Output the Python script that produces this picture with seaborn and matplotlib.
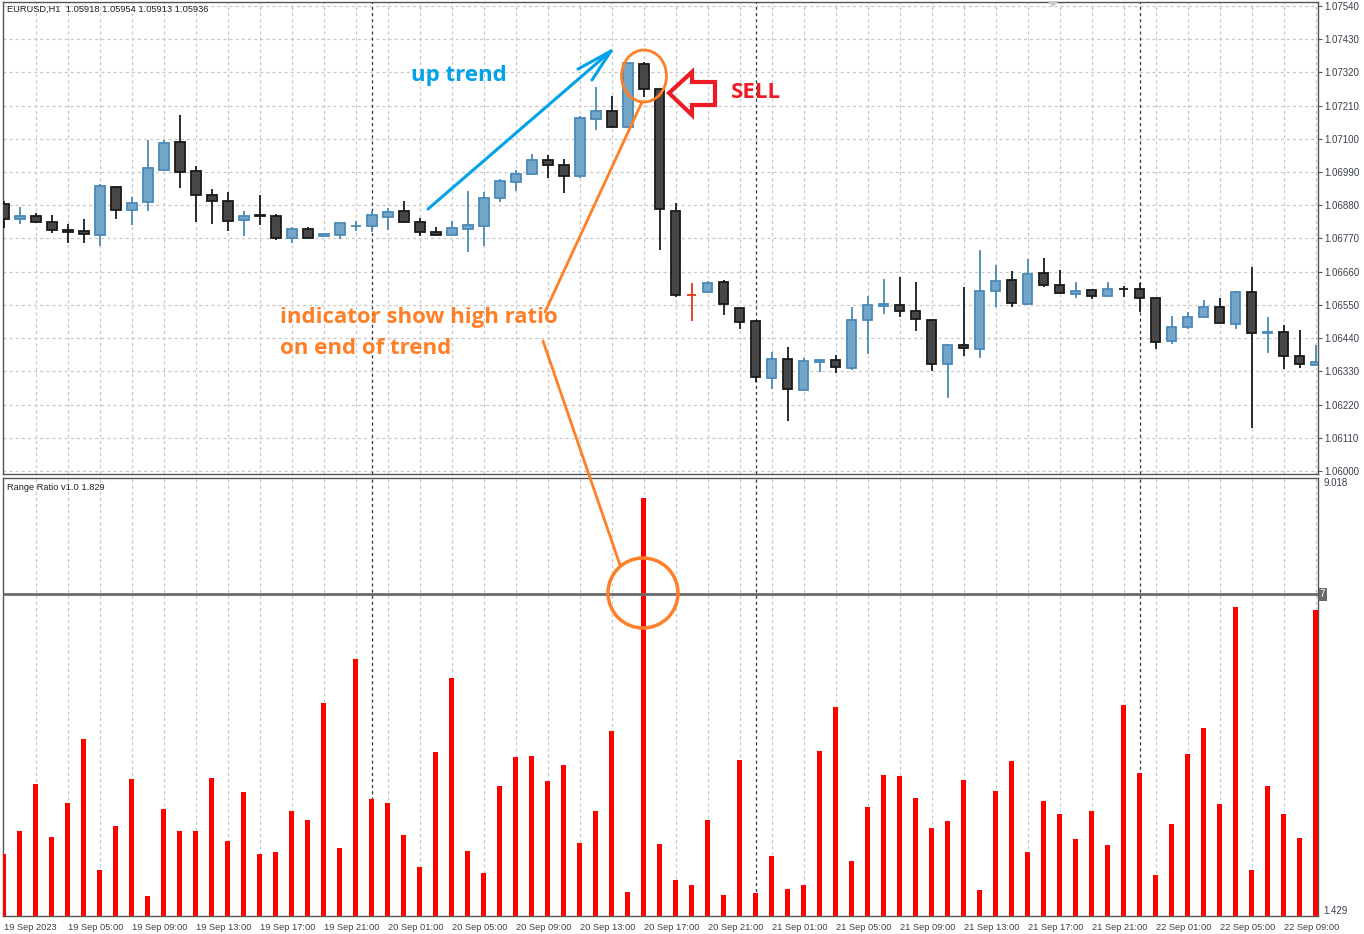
import numpy as np
import pandas as pd
import matplotlib
matplotlib.use("Agg")
import matplotlib.pyplot as plt
import matplotlib.transforms as mtransforms
from matplotlib.patches import Ellipse, Polygon
from matplotlib.lines import Line2D
import seaborn as sns

# ---- data (EURUSD H1, 83 bars) ----
time_labels = [
    "19 Sep 2023", "19 Sep 05:00", "19 Sep 09:00", "19 Sep 13:00", "19 Sep 17:00",
    "19 Sep 21:00", "20 Sep 01:00", "20 Sep 05:00", "20 Sep 09:00", "20 Sep 13:00",
    "20 Sep 17:00", "20 Sep 21:00", "21 Sep 01:00", "21 Sep 05:00", "21 Sep 09:00",
    "21 Sep 13:00", "21 Sep 17:00", "21 Sep 21:00", "22 Sep 01:00", "22 Sep 05:00",
    "22 Sep 09:00",
]
day_breaks = [23, 47, 71]

opens = [
    1.06884, 1.06835, 1.06845, 1.06825, 1.06798, 1.06795, 1.06782, 1.06941, 1.06865, 1.06891,
    1.06997, 1.07090, 1.06994, 1.06914, 1.06894, 1.06831, 1.06846, 1.06845, 1.06772, 1.06802,
    1.06778, 1.06782, 1.06811, 1.06812, 1.06841, 1.06861, 1.06825, 1.06792, 1.06782, 1.06802,
    1.06812, 1.06904, 1.06957, 1.06984, 1.07030, 1.07014, 1.06977, 1.07166, 1.07192, 1.07139,
    1.07348, 1.07265, 1.06861, 1.06583, 1.06593, 1.06626, 1.06540, 1.06497, 1.06308, 1.06371,
    1.06269, 1.06361, 1.06368, 1.06341, 1.06500, 1.06547, 1.06550, 1.06530, 1.06500, 1.06355,
    1.06418, 1.06404, 1.06596, 1.06633, 1.06553, 1.06656, 1.06616, 1.06586, 1.06600, 1.06580,
    1.06603, 1.06603, 1.06573, 1.06431, 1.06477, 1.06510, 1.06543, 1.06487, 1.06593, 1.06457,
    1.06461, 1.06381, 1.06351,
]
highs = [
    1.06894, 1.06874, 1.06855, 1.06848, 1.06818, 1.06835, 1.06951, 1.06943, 1.06908, 1.07096,
    1.07096, 1.07179, 1.07010, 1.06934, 1.06924, 1.06861, 1.06914, 1.06851, 1.06808, 1.06808,
    1.06788, 1.06822, 1.06828, 1.06861, 1.06871, 1.06894, 1.06838, 1.06808, 1.06828, 1.06928,
    1.06924, 1.06967, 1.06997, 1.07050, 1.07047, 1.07033, 1.07176, 1.07272, 1.07242, 1.07352,
    1.07355, 1.07266, 1.06888, 1.06623, 1.06630, 1.06633, 1.06541, 1.06500, 1.06394, 1.06411,
    1.06375, 1.06371, 1.06385, 1.06543, 1.06580, 1.06636, 1.06643, 1.06626, 1.06501, 1.06419,
    1.06610, 1.06732, 1.06682, 1.06663, 1.06702, 1.06706, 1.06666, 1.06626, 1.06601, 1.06626,
    1.06613, 1.06623, 1.06574, 1.06514, 1.06527, 1.06567, 1.06574, 1.06596, 1.06676, 1.06510,
    1.06484, 1.06467, 1.06418,
]
lows = [
    1.06805, 1.06818, 1.06822, 1.06788, 1.06755, 1.06755, 1.06745, 1.06835, 1.06815, 1.06861,
    1.06995, 1.06937, 1.06825, 1.06818, 1.06795, 1.06778, 1.06815, 1.06765, 1.06755, 1.06770,
    1.06775, 1.06769, 1.06795, 1.06792, 1.06798, 1.06822, 1.06778, 1.06780, 1.06778, 1.06725,
    1.06745, 1.06891, 1.06928, 1.06982, 1.06971, 1.06921, 1.06971, 1.07129, 1.07136, 1.07137,
    1.07239, 1.06732, 1.06577, 1.06497, 1.06590, 1.06517, 1.06471, 1.06295, 1.06272, 1.06166,
    1.06267, 1.06328, 1.06325, 1.06335, 1.06388, 1.06520, 1.06510, 1.06464, 1.06332, 1.06242,
    1.06381, 1.06375, 1.06543, 1.06543, 1.06551, 1.06610, 1.06586, 1.06573, 1.06570, 1.06579,
    1.06577, 1.06527, 1.06404, 1.06421, 1.06471, 1.06509, 1.06489, 1.06471, 1.06143, 1.06391,
    1.06338, 1.06341, 1.06350,
]
closes = [
    1.06835, 1.06845, 1.06825, 1.06798, 1.06792, 1.06785, 1.06944, 1.06865, 1.06888, 1.07004,
    1.07086, 1.06990, 1.06914, 1.06894, 1.06828, 1.06845, 1.06845, 1.06772, 1.06802, 1.06772,
    1.06785, 1.06822, 1.06813, 1.06848, 1.06858, 1.06825, 1.06792, 1.06782, 1.06805, 1.06815,
    1.06904, 1.06961, 1.06984, 1.07030, 1.07014, 1.06977, 1.07169, 1.07192, 1.07139, 1.07351,
    1.07265, 1.06868, 1.06583, 1.06583, 1.06623, 1.06553, 1.06494, 1.06312, 1.06371, 1.06272,
    1.06365, 1.06368, 1.06345, 1.06500, 1.06550, 1.06553, 1.06530, 1.06504, 1.06355, 1.06418,
    1.06408, 1.06596, 1.06630, 1.06557, 1.06653, 1.06616, 1.06590, 1.06596, 1.06580, 1.06603,
    1.06602, 1.06573, 1.06428, 1.06477, 1.06510, 1.06543, 1.06490, 1.06593, 1.06457, 1.06461,
    1.06381, 1.06355, 1.06361,
]
# Range Ratio indicator
ratio = [
    2.50, 2.90, 3.72, 2.80, 3.39, 4.50, 2.23, 2.99, 3.80, 1.78,
    3.28, 2.90, 2.90, 3.82, 2.73, 3.58, 2.50, 2.54, 3.25, 3.09,
    5.12, 2.61, 5.88, 3.46, 3.39, 2.83, 2.28, 4.27, 5.55, 2.56,
    2.17, 3.68, 4.18, 4.20, 3.77, 4.05, 2.69, 3.25, 4.63, 1.85,
    8.67, 2.68, 2.05, 1.97, 3.09, 1.79, 4.13, 1.83, 2.47, 1.90,
    1.97, 4.29, 5.05, 2.38, 3.32, 3.87, 3.86, 3.47, 2.95, 3.08,
    3.79, 1.88, 3.60, 4.12, 2.54, 3.42, 3.20, 2.76, 3.25, 2.66,
    5.09, 3.91, 2.14, 3.02, 4.24, 4.69, 3.37, 6.78, 2.23, 3.68,
    3.20, 2.78, 6.73,
]
price_ticks = [1.07540, 1.07430, 1.07320, 1.07210, 1.07100, 1.06990, 1.06880,
               1.06770, 1.06660, 1.06550, 1.06440, 1.06330, 1.06220, 1.06110, 1.06000]
level = 7

df = pd.DataFrame({"open": opens, "high": highs, "low": lows, "close": closes, "ratio": ratio})
df["bar"] = np.arange(len(df))

sns.set_style("white")
plt.rcParams["font.family"] = ["Liberation Sans", "DejaVu Sans"]
plt.rcParams["lines.scale_dashes"] = False

W, H = 1364, 934
fig = plt.figure(figsize=(W / 100, H / 100), dpi=100)
ax = fig.add_axes([3 / W, (H - 474) / H, 1315 / W, 472 / H])
ax2 = fig.add_axes([3 / W, (H - 916) / H, 1315 / W, 438 / H])

UP_FILL, UP_EDGE = "#74a6c9", "#4a8ab8"
DN_FILL, DN_EDGE = "#494648", "#1a1a1a"
GRID = "#c8c8c8"
TXT = "#3a3f4a"
SPINE = "#555555"
dash = (0, (2.2, 2.2))

# ---- candles ----
up = df[df.close > df.open]
dn = df[df.close < df.open]
flat = df[df.close == df.open]

ax.vlines(up.bar, up.low, up.high, color=UP_EDGE, lw=1.3, zorder=3)
ax.vlines(dn.bar, dn.low, dn.high, color=DN_EDGE, lw=1.3, zorder=3)
ax.vlines(flat.bar, flat.low, flat.high, color="#e8341c", lw=1.3, zorder=3)
ax.bar(up.bar, (up.close - up.open).clip(lower=0.00002), bottom=up.open, width=0.6,
       color=UP_FILL, edgecolor=UP_EDGE, lw=1.3, zorder=4)
ax.bar(dn.bar, (dn.open - dn.close).clip(lower=0.00002), bottom=dn.close, width=0.6,
       color=DN_FILL, edgecolor=DN_EDGE, lw=1.3, zorder=4)
ax.hlines(flat.close, flat.bar - 0.3, flat.bar + 0.3, color="#e8341c", lw=1.3, zorder=4)

# ---- indicator histogram ----
sns.barplot(data=df, x="bar", y="ratio", native_scale=True, width=0.33, color="#ff0000",
            saturation=1, errorbar=None, ax=ax2, linewidth=0, zorder=3)
ax2.axhline(level, color="#6a6a6a", lw=2, zorder=4)

# ---- axes styling ----
xlim = (-0.05, 82.15)
for a in (ax, ax2):
    a.set_xlim(*xlim)
    a.set_xlabel("")
    a.set_ylabel("")
    for b in range(2, len(df), 2):
        a.axvline(b, color=GRID, lw=0.9, ls=dash, zorder=1)
    for b in day_breaks:
        a.axvline(b, color="#333333", lw=0.9, ls=dash, zorder=2)
    for s in a.spines.values():
        s.set_color(SPINE)
        s.set_linewidth(1)
    a.yaxis.tick_right()
    a.tick_params(axis="y", labelsize=7, colors=SPINE, labelcolor=TXT, length=3,
                  width=0.8, pad=1.5, direction="out")

ax.set_ylim(1.059901, 1.075532)
ax.set_yticks(price_ticks)
ax.set_yticklabels([f"{p:.5f}" for p in price_ticks])
for p in price_ticks:
    ax.axhline(p, color=GRID, lw=0.9, ls=dash, zorder=1)
ax.set_xticks([])

ax2.set_ylim(1.429, 9.018)
ax2.set_yticks([1.429, 9.018])
ax2.set_yticklabels(["1.429", "9.018"])
lbls = ax2.get_yticklabels()
lbls[0].set_va("bottom")
lbls[1].set_va("top")
ax2.tick_params(axis="y", length=0, pad=4)
ax2.set_xticks(np.arange(0, len(df), 4))
ax2.set_xticklabels(time_labels, ha="left")
ax2.tick_params(axis="x", labelsize=6.7, labelcolor=TXT, colors=SPINE, length=3,
                width=0.8, pad=2, direction="out")
ax2.text(1.0015, level, "7", transform=ax2.get_yaxis_transform(), ha="left", va="center",
         fontsize=7, color="white", bbox=dict(boxstyle="square,pad=0.12", fc="#6a6a6a", ec="none"))

# ---- annotations (pixel positions on the canvas) ----
px = mtransforms.Affine2D().scale(1 / W, -1 / H).translate(0, 1) + fig.transFigure

fig.text(7, 9, "EURUSD,H1  1.05918 1.05954 1.05913 1.05936", transform=px,
         fontsize=6.7, color="#222222", va="center")
fig.text(7, 487, "Range Ratio v1.0 1.829", transform=px, fontsize=6.7, color="#222222",
         va="center")

ann = dict(transform=px, fontsize=16, fontweight="bold", family=["Open Sans", "DejaVu Sans"],
           va="center")
fig.text(411, 76, "up trend", color="#00a2e8", **ann)
fig.text(731, 93, "SELL", color="#ed1c24", **ann)
fig.text(280, 317, "indicator show high ratio", color="#ff7f27", **ann)
fig.text(280, 349, "on end of trend", color="#ff7f27", **ann)

blue = "#00a2e8"
for xs, ys in [([428, 611], [209, 51]), ([611, 578], [51, 69]), ([611, 592], [51, 80])]:
    fig.add_artist(Line2D(xs, ys, transform=px, color=blue, lw=2.2, solid_capstyle="round"))

orange = "#ff7f27"
for xs, ys in [([642, 545], [102, 312]), ([543, 620], [341, 565])]:
    fig.add_artist(Line2D(xs, ys, transform=px, color=orange, lw=2))
fig.add_artist(Ellipse((644, 76), 45, 52, transform=px, fill=False, ec=orange, lw=2))
fig.add_artist(Ellipse((643, 593), 70, 70, transform=px, fill=False, ec=orange, lw=2.5))

arrow = [(669, 93), (692, 72), (692, 82), (715, 82), (715, 105), (692, 105), (692, 115)]
fig.add_artist(Polygon(arrow, closed=True, transform=px, fill=False, ec="#ed1c24", lw=3,
                       joinstyle="miter"))
fig.add_artist(Polygon([(1047, 1), (1059, 1), (1053, 7)], closed=True, transform=px,
                       fc="#c8c8c8", ec="none"))

fig.savefig("out.png", dpi=100)
